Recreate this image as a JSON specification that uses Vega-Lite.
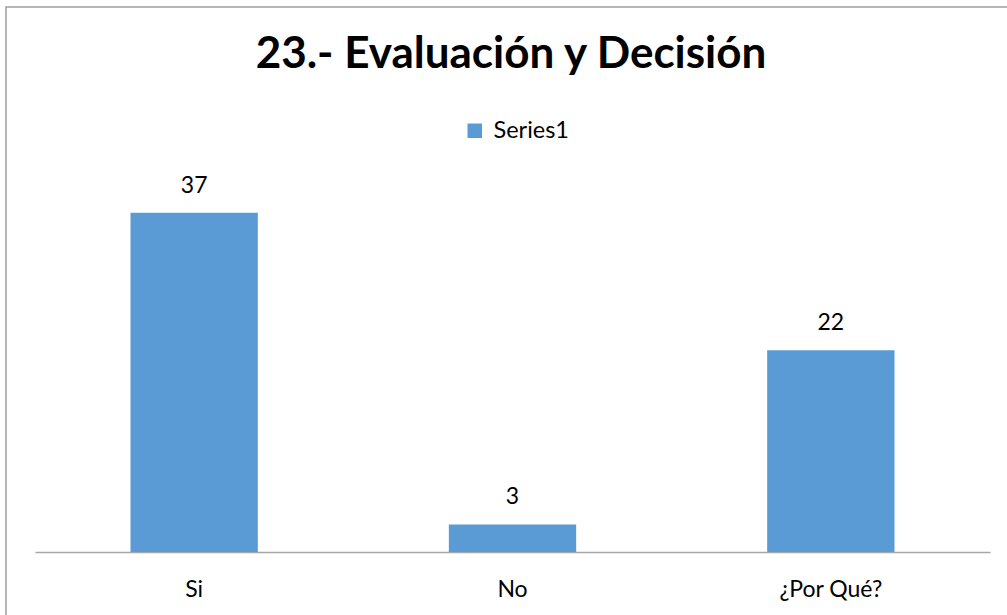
{
  "$schema": "https://vega.github.io/schema/vega-lite/v6.json",
  "width": 1010,
  "height": 620,
  "autosize": "none",
  "padding": {"left": 6, "top": 7, "right": 0, "bottom": 0},
  "background": "white",
  "title": {
    "text": "23.- Evaluación y Decisión",
    "font": "Lato",
    "fontWeight": "bold",
    "fontSize": 44,
    "color": "#000000",
    "anchor": "middle",
    "baseline": "alphabetic",
    "offset": -105
  },
  "config": {
    "view": {"stroke": "#9e9e9e", "strokeWidth": 1.5}
  },
  "data": {
    "values": [
      {"categoria": "Si", "valor": 37, "serie": "Series1"},
      {"categoria": "No", "valor": 3, "serie": "Series1"},
      {"categoria": "¿Por Qué?", "valor": 22, "serie": "Series1"}
    ]
  },
  "encoding": {
    "x": {
      "field": "categoria",
      "type": "nominal",
      "sort": null,
      "scale": {"range": [29, 984], "paddingInner": 0.6, "paddingOuter": 0.3},
      "axis": {
        "title": null,
        "orient": "bottom",
        "offset": -75,
        "labelAngle": 0,
        "ticks": false,
        "tickSize": 0,
        "labelPadding": 44,
        "labelBaseline": "alphabetic",
        "labelFont": "Lato",
        "labelFontSize": 23,
        "labelColor": "#000000",
        "domainColor": "#a6a6a6",
        "domainWidth": 1.5,
        "grid": false
      }
    },
    "y": {
      "field": "valor",
      "type": "quantitative",
      "scale": {"domain": [0, 40], "range": [545, 178.2], "nice": false},
      "axis": null
    }
  },
  "layer": [
    {
      "mark": {"type": "bar"},
      "encoding": {
        "color": {
          "field": "serie",
          "type": "nominal",
          "scale": {"range": ["#5B9BD5"]},
          "legend": {
            "title": null,
            "orient": "none",
            "legendX": 457,
            "legendY": 112,
            "padding": 0,
            "symbolType": "square",
            "symbolSize": 210,
            "symbolStrokeWidth": 0,
            "symbolOpacity": 1,
            "labelFont": "Lato",
            "labelFontSize": 23.5,
            "labelColor": "#000000",
            "labelOffset": 7
          }
        }
      }
    },
    {
      "mark": {
        "type": "text",
        "baseline": "alphabetic",
        "dy": -20,
        "font": "Lato",
        "fontSize": 23,
        "color": "#000000"
      },
      "encoding": {"text": {"field": "valor", "type": "quantitative"}}
    }
  ]
}
